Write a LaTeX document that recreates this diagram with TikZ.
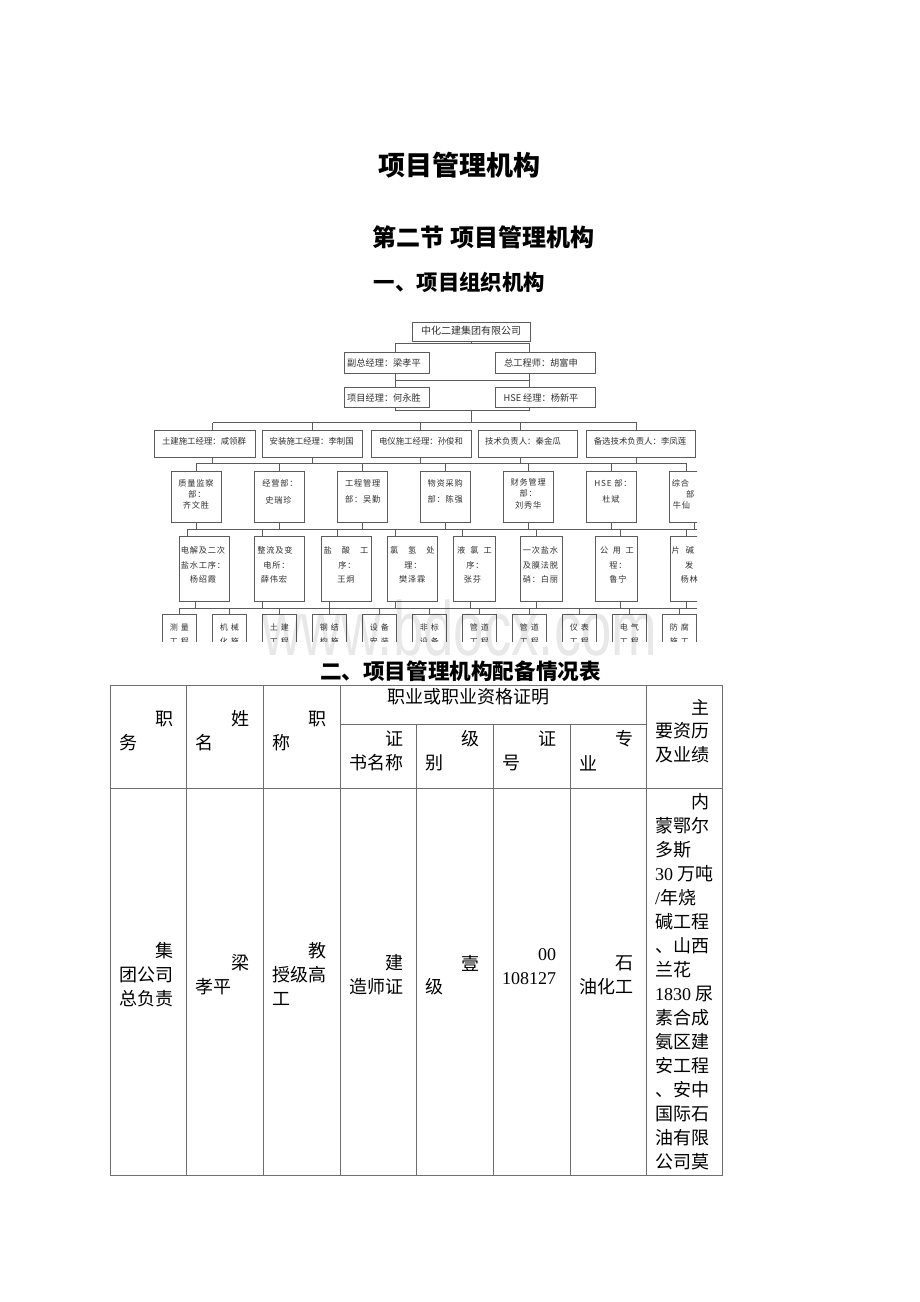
\documentclass[tikz,border=0pt]{standalone}
\usepackage{fontspec}
\setmainfont{Liberation Serif}
\newfontfamily\cjk{Noto Sans CJK SC}
\newfontfamily\orgf[LetterSpace=10]{Noto Sans CJK SC}
\newfontfamily\tnr{Liberation Serif}
\newfontfamily\wmf{Liberation Sans}
\newcommand\myfs[1]{\fontsize{#1}{#1}\selectfont}
\definecolor{lc}{HTML}{5C5C5C}
\definecolor{tc}{HTML}{303030}
\definecolor{tlc}{HTML}{6E6E6E}
\begin{document}
\begin{tikzpicture}[x=1pt,y=-1pt,
  conn/.style={draw=lc,line width=0.75pt},
  ob/.style={draw=lc,line width=0.75pt,inner sep=0pt},
  ot/.style={inner sep=0pt,text=tc},
  hd/.style={inner sep=0pt,text=black},
  tl/.style={draw=tlc,line width=0.9pt},
  tt/.style={inner sep=0pt,anchor=west,font=\cjk\myfs{18}}]
\fill[white] (0,0) rectangle (920,1302);
\useasboundingbox (0,0) rectangle (920,1302);

% ---------- headings
\node[hd,font=\cjk\bfseries\myfs{27}] (title) at (459,165) {项目管理机构};
\node[hd,font=\cjk\bfseries\myfs{24}] (sec) at (483.7,237) {第二节 项目管理机构};
\node[hd,font=\cjk\bfseries\myfs{21.4}] (sub1) at (459.5,282) {一、项目组织机构};
\node[hd,font=\cjk\bfseries\myfs{21.6}] (sub2) at (460.5,671) {二、项目管理机构配备情况表};

% ---------- org chart
\begin{scope}
\clip (148,315) rectangle (697,641);
% level 1-3
\node[ob,minimum width=118pt,minimum height=19pt] (top) at (471,331.5) {};
\node[ob,minimum width=85pt,minimum height=21pt] (L2a) at (386.5,362.5) {};
\node[ob,minimum width=100pt,minimum height=21pt] (L2b) at (545,362.5) {};
\node[ob,minimum width=85pt,minimum height=20pt] (L3a) at (386.5,397) {};
\node[ob,minimum width=100pt,minimum height=20pt] (L3b) at (545,397) {};
\node[ot,font=\cjk\myfs{10}] (topt) at (471,331) {中化二建集团有限公司};
\node[ot,font=\cjk\myfs{9.2}] (L2at) at (384,363) {副总经理：梁孝平};
\node[ot,font=\cjk\myfs{9.2}] (L2bt) at (541,363) {总工程师：胡富申};
\node[ot,font=\cjk\myfs{9.2}] (L3at) at (384,398) {项目经理：何永胜};
\node[ot,font=\cjk\myfs{9.2}] (L3bt) at (541,398) {HSE 经理：杨新平};
% connectors level 1-3
\coordinate (b1l) at (395,343.3); \coordinate (b1r) at (529,343.3);
\draw[conn] (top.south) -- (top.south |- b1l);
\draw[conn] (b1l) -- (b1r);
\draw[conn] (b1l) -- (b1l |- L2a.north);
\draw[conn] (b1r) -- (b1r |- L2b.north);
\coordinate (b2l) at (395,380); \coordinate (b2r) at (529,380);
\draw[conn] (b2l |- L2a.south) -- (b2l) -- (b2r) -- (b2r |- L2b.south);
\draw[conn] (b2l) -- (b2l |- L3a.north);
\draw[conn] (b2r) -- (b2r |- L3b.north);
\coordinate (b3l) at (395,410.7); \coordinate (b3r) at (529,410.7);
\coordinate (b3c) at (471.7,410.7); \coordinate (b4c) at (471.7,422.7);
\draw[conn] (b3l |- L3a.south) -- (b3l) -- (b3r) -- (b3r |- L3b.south);
\draw[conn] (b3c) -- (b4c);

% level 4
\foreach \n/\cx/\w/\tx/\t in {
  A/204.65/100.7/204/土建施工经理：咸领群,
  B/312.3/100/311.7/安装施工经理：李制国,
  C/421/100/421/电仪施工经理：孙俊和,
  D/528/99.4/523/技术负责人：秦金瓜,
  E/640.85/108.3/640/备选技术负责人：李凤莲}{
  \node[ob,minimum width=\w pt,minimum height=27.7pt] (\n) at (\cx,443.85) {};
  \node[ot,font=\cjk\myfs{8.4}] (\n t) at (\tx,441) {\t};
}
\foreach \n/\x in {A/212.7,B/312.7,C/420,D/520,E/636.7}{
  \coordinate (u\n) at (\x,422.7);
  \coordinate (d\n) at (\x,463.3);
  \draw[conn] (u\n) -- (u\n |- \n.north);
  \draw[conn] (u\n |- \n.south) -- (d\n);
}
\draw[conn] (uA) -- (uE);

% level 5
\foreach \n/\cx in {a/196,b/279.3,c/362.7,d/445.3,e/528.3,f/611.7,g/694.3}{
  \node[ob,minimum width=50pt,minimum height=50.6pt] (\n) at (\cx,497) {};
}
\coordinate (v5l) at (196,463.3); \coordinate (v5r) at (686,463.3);
\draw[conn] (v5l) -- (v5r);
\foreach \n/\x in {a/196,b/279.3,c/362.7,d/445.3,e/528.3,f/611.7,g/686}{
  \coordinate (s\n) at (\x,463.3);
  \draw[conn] (s\n) -- (s\n |- \n.north);
}
\begin{scope}[every node/.style={ot,font=\orgf\myfs{8.2}}]
\node (a1) at (196,483.3) {质量监察}; \node (a2) at (197,494) {部：}; \node (a3) at (196,505.5) {齐文胜};
\node (b1) at (280,483.3) {经营部：}; \node (b2) at (278.5,500) {史瑞珍};
\node (c1) at (362.7,483.3) {工程管理}; \node (c2) at (362.7,499.3) {部：吴勤};
\node (d1) at (445.3,483.3) {物资采购}; \node (d2) at (445.3,499.3) {部：陈强};
\node (e1) at (528.3,482) {财务管理}; \node (e2) at (528.3,493) {部：}; \node (e3) at (528.3,505) {刘秀华};
\node (f1) at (613,483) {HSE 部：}; \node (f2) at (611,499) {杜斌};
\node[anchor=west] (g1) at (671.7,483) {综合}; \node[anchor=west] (g2) at (686,494) {部}; \node[anchor=west] (g3) at (672.7,505.5) {牛仙};
\end{scope}

% level 6
\foreach \n/\cx/\w in {p/204/50,q/279/50,r/346/50,s/412.3/50,t/474.5/42.4,u/541.2/42.3,v/616.2/42.3,w/695/50}{
  \node[ob,minimum width=\w pt,minimum height=64.3pt] (\n) at (\cx,568.85) {};
}
\foreach \m/\x in {a/196,b/279.3,c/362.7,d/445.3,e/528.3,f/611.7,g/694.3}{
  \coordinate (o\m) at (\x,529);
  \draw[conn] (o\m |- \m.south) -- (o\m);
}
\coordinate (v6l) at (187.7,529); \coordinate (v6r) at (697,529);
\draw[conn] (v6l) -- (v6r);
\foreach \n/\x in {p/187.7,q/262.3,r/337.7,s/395.7,t/462.3,u/536.7,v/620,w/686.7}{
  \coordinate (i\n) at (\x,529);
  \draw[conn] (i\n) -- (i\n |- \n.north);
}
\begin{scope}[every node/.style={ot,font=\orgf\myfs{8.2}}]
\node (p1) at (203,550.7) {电解及二次}; \node (p2) at (203,565) {盐水工序：}; \node (p3) at (203,579.3) {杨绍霞};
\node (q1) at (275,550.7) {整流及变}; \node (q2) at (276.5,565) {电所：}; \node (q3) at (274,579.3) {薛伟宏};
\node (r1) at (346,550.7) {盐\hspace{10pt}酸\hspace{10pt}工}; \node (r2) at (347,565) {序：}; \node (r3) at (346,579.3) {王炯};
\node (s1) at (412.3,550.7) {氯\hspace{10pt}氢\hspace{10pt}处}; \node (s2) at (413,565) {理：}; \node (s3) at (412.3,579.3) {樊泽霖};
\node (t1) at (474.5,550.7) {液\hspace{5pt}氯\hspace{5pt}工}; \node (t2) at (475,565) {序：}; \node (t3) at (472.5,579.3) {张芬};
\node (u1) at (540.5,550.7) {一次盐水}; \node (u2) at (540.5,565) {及膜法脱}; \node (u3) at (540.5,579.3) {硝：白丽};
\node (v1) at (617,550.7) {公\hspace{4.5pt}用\hspace{4.5pt}工}; \node (v2) at (618,565) {程：}; \node (v3) at (618,579.3) {鲁宁};
\node[anchor=west] (w1) at (671.5,550.7) {片\hspace{6pt}碱}; \node[anchor=west] (w2) at (685,565) {发}; \node[anchor=west] (w3) at (680.3,579.3) {杨林};
\end{scope}

% level 7
\foreach \n/\x in {p/195.7,q/262.3,r/329,s/395.7,t/470,u/536.7,v/620,w/686.7}{
  \coordinate (k\n) at (\x,608.3);
  \draw[conn] (k\n |- \n.south) -- (k\n);
}
\coordinate (v7l) at (179.3,608.3); \coordinate (v7r) at (697,608.3);
\draw[conn] (v7l) -- (v7r);
\foreach \k/\ta/\tb in {0/测\hspace{3pt}量/工\hspace{3pt}程,1/机\hspace{3pt}械/化\hspace{3pt}施,2/土\hspace{3pt}建/工\hspace{3pt}程,3/钢\hspace{3pt}结/构\hspace{3pt}施,4/设\hspace{3pt}备/安\hspace{3pt}装,5/非\hspace{3pt}标/设\hspace{3pt}备,6/管\hspace{3pt}道/工\hspace{3pt}程,7/管\hspace{3pt}道/工\hspace{3pt}程,8/仪\hspace{3pt}表/工\hspace{3pt}程,9/电\hspace{3pt}气/工\hspace{3pt}程,10/防\hspace{3pt}腐/施\hspace{3pt}工}{
  \node[ob,minimum width=33.3pt,minimum height=50pt] (h\k) at (179.3+50*\k,639.3) {};
  \coordinate (j\k) at (179.3+50*\k,608.3);
  \draw[conn] (j\k) -- (j\k |- h\k.north);
  \node[ot,font=\cjk\myfs{8}] (h\k a) at (179.3+50*\k,627.7) {\ta};
  \node[ot,font=\cjk\myfs{8}] (h\k b) at (179.3+50*\k,641) {\tb};
}
\end{scope}

% watermark
\node[inner sep=0pt,font=\wmf\myfs{77},text=black,opacity=0.09,xscale=0.71,transform shape] (wm) at (460,628) {www.bdocx.com};

% ---------- table
\draw[tl] (110,685) rectangle (722,1175);
\foreach \x in {186,263,340,646}{\draw[tl] (\x,685) -- (\x,1175);}
\foreach \x in {416,493,570}{\draw[tl] (\x,724) -- (\x,1175);}
\draw[tl] (340,724) -- (646,724);
\draw[tl] (110,788) -- (722,788);

% header
\node[tt] (h11) at (155,719) {职}; \node[tt] (h12) at (119,743) {务};
\node[tt] (h21) at (231,719) {姓}; \node[tt] (h22) at (195,743) {名};
\node[tt] (h31) at (308,719) {职}; \node[tt] (h32) at (272,743) {称};
\node[tt] (hc) at (387,697) {职业或职业资格证明};
\node[tt] (h81) at (691,707) {主}; \node[tt] (h82) at (655,731) {要资历}; \node[tt] (h83) at (655,755) {及业绩};
\node[tt] (h41) at (385,739) {证}; \node[tt] (h42) at (349,763) {书名称};
\node[tt] (h51) at (461,739) {级}; \node[tt] (h52) at (425,763) {别};
\node[tt] (h61) at (538,739) {证}; \node[tt] (h62) at (502,763) {号};
\node[tt] (h71) at (615,739) {专}; \node[tt] (h72) at (579,763) {业};

% body
\node[tt] (c11) at (155,951) {集}; \node[tt] (c12) at (119,975) {团公司}; \node[tt] (c13) at (119,999) {总负责};
\node[tt] (c21) at (231,963) {梁}; \node[tt] (c22) at (195,987) {孝平};
\node[tt] (c31) at (308,951) {教}; \node[tt] (c32) at (272,975) {授级高}; \node[tt] (c33) at (272,999) {工};
\node[tt] (c41) at (385,963) {建}; \node[tt] (c42) at (349,987) {造师证};
\node[tt] (c51) at (461,963) {壹}; \node[tt] (c52) at (425,987) {级};
\node[tt,font=\tnr\myfs{18}] (c61) at (538,955) {00}; \node[tt,font=\tnr\myfs{18}] (c62) at (502,979) {108127};
\node[tt] (c71) at (615,963) {石}; \node[tt] (c72) at (579,987) {油化工};
\node[tt] (c80) at (691,802) {内};
\foreach \i/\t in {1/蒙鄂尔,2/多斯,3/{{\tnr 30} 万吨},4/{{\tnr /}年烧},5/碱工程,6/、山西,7/兰花,8/{{\tnr 1830} 尿},9/素合成,10/氨区建,11/安工程,12/、安中,13/国际石,14/油有限,15/公司莫}{
  \node[tt] (c8\i) at (655,802+24*\i) {\t};
}
\end{tikzpicture}
\end{document}
